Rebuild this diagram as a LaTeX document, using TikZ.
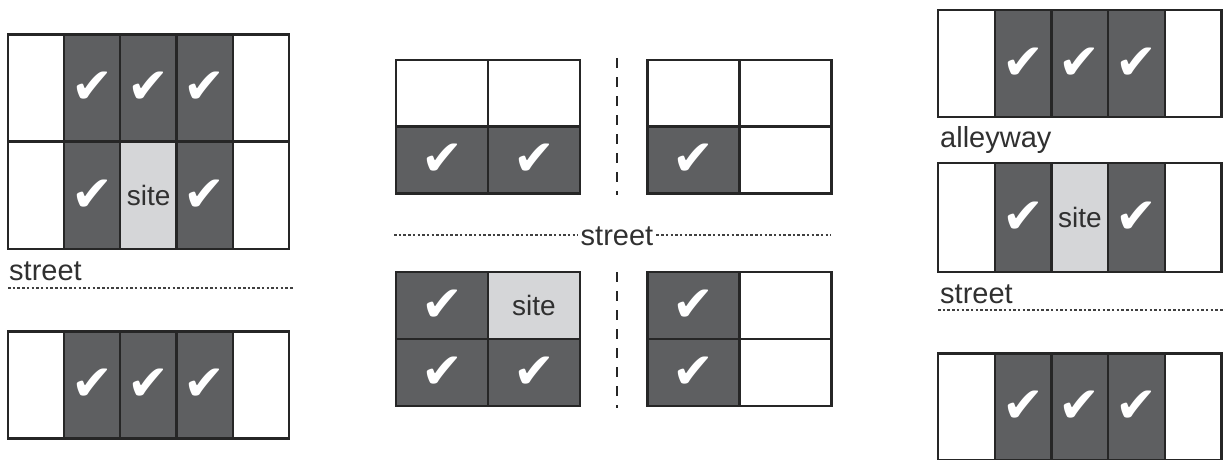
\documentclass[tikz,border=0pt]{standalone}
\usepackage{fontspec}
\setmainfont{Liberation Sans}
\newfontfamily\checkfont{DejaVu Sans}
\usetikzlibrary{positioning}
\definecolor{LotDark}{HTML}{5E5F61}
\definecolor{SiteGray}{HTML}{D5D6D8}
\definecolor{LabelGray}{HTML}{303030}
\tikzset{
  cell/.style={draw=black!85, line width=2.2pt, inner sep=0pt, font=\fontsize{28}{30}\selectfont},
  narrow/.style={minimum width=56.5pt, minimum height=107pt},
  wide/.style={minimum width=92pt, minimum height=67pt},
  lot/.style={cell, fill=white, node contents={}},
  taken/.style={cell, fill=LotDark, text=white, node contents={\checkfont\fontsize{50}{50}\selectfont ✔}},
  site/.style={cell, fill=SiteGray, text=LabelGray, node contents={site}},
  streetlabel/.style={text=LabelGray, inner sep=0pt, font=\fontsize{29}{30}\selectfont},
  streetline/.style={draw=black!75, line width=1.6pt, dash pattern=on 2.5pt off 2.2pt},
  boundary/.style={draw=black!85, line width=2.4pt, dash pattern=on 10pt off 9pt}
}
\begin{document}
\begin{tikzpicture}[x=1pt, y=-1pt]
  \useasboundingbox (0,0) rectangle (1225,460);

  % left: lots across the street
  \foreach \t [count=\i from 0] in {lot,taken,taken,taken,lot}
    \node (la\i) at ({36.2+56.2*\i},88) [narrow,\t];
  \foreach \t [count=\i from 0] in {lot,taken,site,taken,lot}
    \node (lb\i) at ({36.2+56.2*\i},195.5) [narrow,\t];
  \foreach \t [count=\i from 0] in {lot,taken,taken,taken,lot}
    \node (lc\i) at ({36.2+56.2*\i},385) [narrow,\t];
  \node[streetlabel, anchor=base west] (lstreet) at (9,280) {street};
  \coordinate (lsa) at (8,288);
  \coordinate (lsb) at (293,288);
  \draw[streetline] (lsa) -- (lsb);

  % middle: corner lot
  \foreach \t [count=\i from 0] in {lot,lot}
    \node (ma\i) at ({442+92*\i},93.5) [wide,\t];
  \foreach \t [count=\i from 0] in {taken,taken}
    \node (mb\i) at ({442+92*\i},160) [wide,\t];
  \foreach \t [count=\i from 0] in {taken,site}
    \node (mc\i) at ({442+92*\i},305.5) [wide,\t];
  \foreach \t [count=\i from 0] in {taken,taken}
    \node (md\i) at ({442+92*\i},372.5) [wide,\t];
  \foreach \t [count=\i from 0] in {lot,lot}
    \node (na\i) at ({693.5+92*\i},93.5) [wide,\t];
  \foreach \t [count=\i from 0] in {taken,lot}
    \node (nb\i) at ({693.5+92*\i},160) [wide,\t];
  \foreach \t [count=\i from 0] in {taken,lot}
    \node (nc\i) at ({693.5+92*\i},305.5) [wide,\t];
  \foreach \t [count=\i from 0] in {taken,lot}
    \node (nd\i) at ({693.5+92*\i},372.5) [wide,\t];
  \node[streetlabel, anchor=base] (mstreet) at (617,245) {street};
  \coordinate (msa) at (394,235);
  \coordinate (msb) at (831,235);
  \draw[streetline] (msa) -- ([xshift=-3pt]mstreet.west |- msa);
  \draw[streetline] ([xshift=3pt]mstreet.east |- msb) -- (msb);
  \coordinate (mva) at (617,58);
  \coordinate (mvb) at (617,195);
  \coordinate (mvc) at (617,272);
  \coordinate (mvd) at (617,408);
  \draw[boundary] (mva) -- (mvb);
  \draw[boundary] (mvc) -- (mvd);

  % right: alleyway and street
  \foreach \t [count=\i from 0] in {lot,taken,taken,taken,lot}
    \node (ra\i) at ({966.5+56.7*\i},63.5) [narrow,\t];
  \foreach \t [count=\i from 0] in {lot,taken,site,taken,lot}
    \node (rb\i) at ({966.5+56.7*\i},217.5) [narrow,\t,minimum height=109pt];
  \foreach \t [count=\i from 0] in {lot,taken,taken,taken,lot}
    \node (rc\i) at ({966.5+56.7*\i},407) [narrow,\t];
  \node[streetlabel, anchor=base west] (alley) at (940,147) {alleyway};
  \node[streetlabel, anchor=base west] (rstreet) at (940,303) {street};
  \coordinate (rsa) at (938,310);
  \coordinate (rsb) at (1225,310);
  \draw[streetline] (rsa) -- (rsb);
\end{tikzpicture}
\end{document}
